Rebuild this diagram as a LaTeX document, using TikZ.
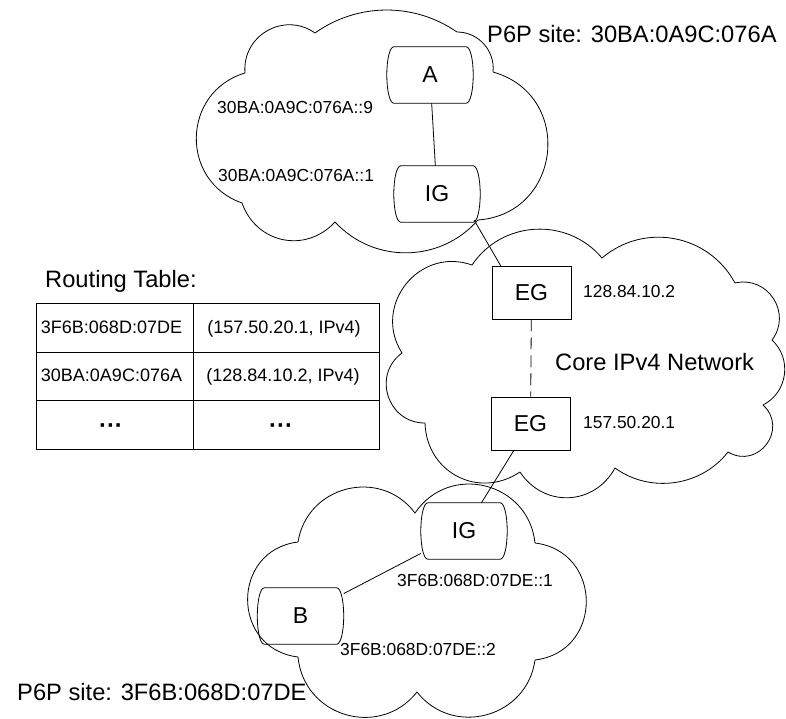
\documentclass[tikz,border=0pt]{standalone}
\usepackage{fontspec}
\setmainfont{Liberation Sans}
\begin{document}
\begin{tikzpicture}[x=1pt,y=1pt,
  cl/.style={line width=0.8pt, line join=round},
  small/.style={font=\fontsize{17.4}{20}\selectfont, inner sep=0pt},
  big/.style={font=\fontsize{23.7}{28}\selectfont, inner sep=0pt},
  tab/.style={font=\fontsize{18}{21}\selectfont, inner sep=0pt},
  dots/.style={font=\fontsize{24}{28}\selectfont\bfseries, inner sep=0pt},
  host/.style={rectangle, minimum width=86pt, minimum height=56pt, inner sep=0pt,
    font=\fontsize{23}{27}\selectfont},
  hostline/.style={line width=0.8pt, line join=round},
  gw/.style={draw, line width=0.8pt, rectangle, minimum width=79pt, minimum height=53pt,
    inner sep=0pt, font=\fontsize{23}{27}\selectfont},
  bp/.style 2 args={bend left=#1, looseness=#2}
]
\newcommand{\hostoutline}[1]{%
  \draw[hostline] ([xshift=7pt]#1.north west) -- ([xshift=-7pt]#1.north east)
    .. controls +(4,0) and +(0,16) .. (#1.east)
    .. controls +(0,-16) and +(4,0) .. ([xshift=-7pt]#1.south east)
    -- ([xshift=7pt]#1.south west)
    .. controls +(-4,0) and +(0,-16) .. (#1.west)
    .. controls +(0,16) and +(-4,0) .. ([xshift=7pt]#1.north west) -- cycle;}
\useasboundingbox (0,0) rectangle (786,-718);

% cloud A (site 30BA)
\draw[cl] (245,-73) to[bp={65}{1.2}] (315,-33) to[bp={35}{0.94}] (457,-32)
  to[bp={48}{1.02}] (493,-72) to[bp={80}{1.45}] (478,-220) to[bp={48}{1.02}] (335,-222)
  to[bp={59}{1.16}] (242,-203) to[bp={72}{1.3}] (245,-73) -- cycle;

% core cloud
\draw[cl] (472,-265) to[bp={53}{1.06}] (602,-258) to[bp={51}{1.05}] (735,-283)
  to[bp={70}{1.27}] (772,-340) to[bp={55}{1.08}] (763,-405) to[bp={84}{1.54}] (728,-452)
  to[bp={44}{0.98}] (615,-468) to[bp={59}{1.16}] (520,-472) to[bp={61}{1.19}] (425,-423)
  to[bp={72}{1.3}] (402,-353) to[bp={71}{1.28}] (472,-265) -- cycle;

% cloud B (site 3F6B)
\draw[cl] (298,-542) to[bp={67}{1.22}] (415,-513) to[bp={70}{1.27}] (535,-543)
  to[bp={83}{1.51}] (535,-660) to[bp={67}{1.22}] (417,-692) to[bp={68}{1.24}] (298,-657)
  to[bp={83}{1.51}] (298,-542) -- cycle;

% nodes
\node[host] (A) at (430,-75) {A};
\node[host] (IGa) at (437,-194) {IG};
\node[gw] (EG1) at (531.5,-292.5) {EG};
\node[gw] (EG2) at (530.5,-423.5) {EG};
\node[host] (IGb) at (464,-531) {IG};
\node[host] (B) at (300.5,-616) {B};
\hostoutline{A}
\hostoutline{IGa}
\hostoutline{IGb}
\hostoutline{B}

% connectors
\draw[cl] (A) -- (IGa);
\draw[cl] ([xshift=-6pt,yshift=2pt]IGa.south east) -- ([xshift=9pt]EG1.north west);
\draw[cl, dash pattern=on 12pt off 6pt] (EG1) -- (EG2);
\draw[cl] (EG2) -- (IGb);
\draw[cl] (IGb) -- (B);

% labels
\node[big, anchor=base west] (siteA) at (487,-42.5) {P6P site: 30BA:0A9C:076A};
\node[big, anchor=base west] (siteB) at (17,-700) {P6P site: 3F6B:068D:07DE};
\node[small, anchor=base west] (adrA) at (217,-113) {30BA:0A9C:076A::9};
\node[small, anchor=base west] (adrIGa) at (218,-181) {30BA:0A9C:076A::1};
\node[small, anchor=base west] (ip1) at (583,-297) {128.84.10.2};
\node[small, anchor=base west] (ip2) at (583,-428) {157.50.20.1};
\node[big, anchor=base west] (core) at (555,-370) {Core IPv4 Network};
\node[small, anchor=base west] (adrIGb) at (397,-586) {3F6B:068D:07DE::1};
\node[small, anchor=base west] (adrB) at (340,-655) {3F6B:068D:07DE::2};

% routing table
\node[big, anchor=base west] (rt) at (45,-287) {Routing Table:};
\draw[line width=1pt] (36,-303) rectangle (379,-449);
\draw[line width=1pt] (36,-352) -- (379,-352) (36,-400) -- (379,-400) (193,-303) -- (193,-449);
\node[tab, anchor=base] (r1a) at (111.5,-333) {3F6B:068D:07DE};
\node[tab, anchor=base] (r1b) at (284,-333) {(157.50.20.1, IPv4)};
\node[tab, anchor=base] (r2a) at (111.5,-381.5) {30BA:0A9C:076A};
\node[tab, anchor=base] (r2b) at (283,-381.5) {(128.84.10.2, IPv4)};
\node[dots, anchor=base] (r3a) at (111,-433) {···};
\node[dots, anchor=base] (r3b) at (281,-433) {···};
\end{tikzpicture}
\end{document}
